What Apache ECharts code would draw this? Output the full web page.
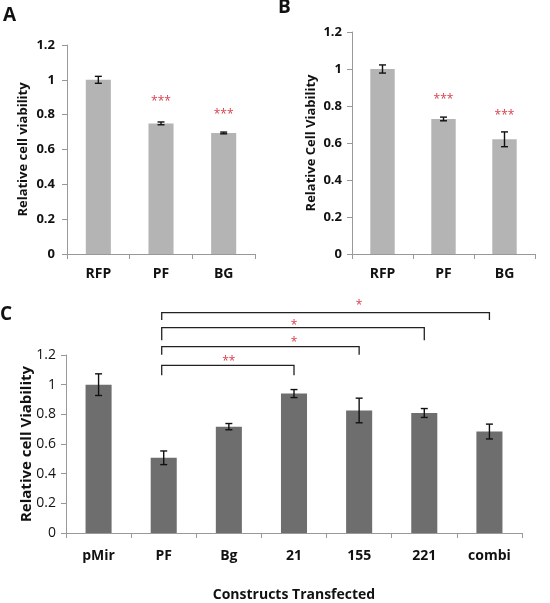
<!DOCTYPE html>
<html><head><meta charset="utf-8">
<script src="https://cdn.jsdelivr.net/npm/echarts@6/dist/echarts.min.js"></script>
<style>html,body{margin:0;padding:0;background:#fff}#c{width:550px;height:603px}</style>
</head><body><div id="c"></div>
<script>
// ---- data ----
var catsA = ['RFP', 'PF', 'BG'];
var valsA = [1.0, 0.75, 0.695];
var errA = [0.02, 0.008, 0.005];
var starsA = [null, '***', '***'];
var starYA = [null, 0.875, 0.80];

var catsB = ['RFP', 'PF', 'BG'];
var valsB = [1.0, 0.73, 0.62];
var errB = [0.022, 0.01, 0.04];
var starsB = [null, '***', '***'];
var starYB = [null, 0.835, 0.75];

var catsC = ['pMir', 'PF', 'Bg', '21', '155', '221', 'combi'];
var valsC = [1.0, 0.507, 0.717, 0.94, 0.826, 0.809, 0.684];
var errC = [0.073, 0.046, 0.021, 0.027, 0.083, 0.03, 0.05];
// brackets: from index, to index, bar height, leg bottom, label, label height
var brFrom = [1, 1, 1, 1];
var brTo = [3, 4, 5, 6];
var brTop = [1.13, 1.257, 1.384, 1.486];
var brLeg = [1.063, 1.202, 1.30, 1.436];
var brLabel = ['**', '*', '*', '*'];
var brLabelY = [1.155, 1.285, 1.40, 1.53];

var yTicks = [0, 0.2, 0.4, 0.6, 0.8, 1, 1.2];

var FONT = 'Open Sans';
var AX = '#999999';
var STAR = '#d9404e';

function errSeries(idx, vals, errs) {
  return {
    type: 'custom', xAxisIndex: idx, yAxisIndex: idx, z: 5, clip: false,
    data: vals.map(function (v, i) { return [i, v, errs[i]]; }),
    renderItem: function (params, api) {
      var x = api.value(0), v = api.value(1), e = api.value(2);
      var top = api.coord([x, v + e]), bot = api.coord([x, v - e]);
      var cw = 3.5;
      var st = { stroke: '#111', lineWidth: 1.4 };
      return { type: 'group', children: [
        { type: 'line', shape: { x1: top[0], y1: top[1], x2: bot[0], y2: bot[1] }, style: st },
        { type: 'line', shape: { x1: top[0] - cw, y1: top[1], x2: top[0] + cw, y2: top[1] }, style: st },
        { type: 'line', shape: { x1: bot[0] - cw, y1: bot[1], x2: bot[0] + cw, y2: bot[1] }, style: st }
      ]};
    }
  };
}
function starSeries(idx, labels, ys) {
  var d = [];
  labels.forEach(function (l, i) { if (l) d.push([i, ys[i], l]); });
  return {
    type: 'custom', xAxisIndex: idx, yAxisIndex: idx, z: 6, clip: false,
    data: d,
    renderItem: function (params, api) {
      var p = api.coord([api.value(0), api.value(1)]);
      return { type: 'text', x: p[0], y: p[1],
        style: { text: d[params.dataIndex][2], fill: STAR, font: '12px "' + FONT + '"', align: 'center', verticalAlign: 'middle' } };
    }
  };
}
function barSeries(idx, vals, color) {
  return { type: 'bar', xAxisIndex: idx, yAxisIndex: idx, data: vals, barCategoryGap: '60%',
    itemStyle: { color: color }, z: 2 };
}
function xAx(idx, cats, fs, margin) {
  return { type: 'category', gridIndex: idx, data: cats,
    axisLine: { lineStyle: { color: AX, width: 1 } },
    axisTick: { show: true, length: 5, lineStyle: { color: AX } },
    axisLabel: { color: '#111', fontFamily: FONT, fontWeight: 'bold', fontSize: fs, margin: margin } };
}
function yAx(idx, name, nameFs, nameGap, labFs, labBold, margin) {
  return { type: 'value', gridIndex: idx, min: 0, max: 1.2, interval: 0.2,
    name: name, nameLocation: 'middle', nameGap: nameGap, nameRotate: 90, nameMoveOverlap: false,
    nameTextStyle: { color: '#111', fontFamily: FONT, fontWeight: 'bold', fontSize: nameFs },
    splitLine: { show: false },
    axisLine: { show: true, lineStyle: { color: AX, width: 1 } },
    axisTick: { show: true, length: 5, lineStyle: { color: AX } },
    axisLabel: { color: '#111', fontFamily: FONT, fontWeight: labBold ? 'bold' : 'normal', fontSize: labFs, margin: margin,
      formatter: function (v) { var s = String(Math.round(v * 10) / 10); return yTicks.indexOf(Number(s)) >= 0 ? s : ''; } } };
}

var chart = echarts.init(document.getElementById('c'), null, { renderer: 'canvas' });
var option = {
  animation: false,
  backgroundColor: '#fff',
  grid: [
    { left: 67, top: 45, width: 188, height: 209 },
    { left: 352, top: 32, width: 183, height: 222 },
    { left: 66, top: 355, width: 456, height: 183 }
  ],
  xAxis: [
    xAx(0, catsA, 14, 13),
    xAx(1, catsB, 14, 13),
    Object.assign(xAx(2, catsC, 14, 16), { name: 'Constructs Transfected', nameLocation: 'middle', nameGap: 55, nameMoveOverlap: false,
      nameTextStyle: { color: '#111', fontFamily: FONT, fontWeight: 'bold', fontSize: 14 } })
  ],
  yAxis: [
    yAx(0, 'Relative cell viability', 13, 37, 13, true, 12),
    yAx(1, 'Relative Cell Viability', 13, 34, 13, true, 10),
    yAx(2, 'Relative cell Viability', 15, 32, 14, false, 10)
  ],
  graphic: [
    { type: 'text', left: 3, top: 6, style: { text: 'A', font: 'bold 19px "' + FONT + '"', fill: '#111' } },
    { type: 'text', left: 278, top: -2, style: { text: 'B', font: 'bold 19px "' + FONT + '"', fill: '#111' } },
    { type: 'text', left: 0, top: 305, style: { text: 'C', font: 'bold 19px "' + FONT + '"', fill: '#111' } }
  ],
  series: [
    barSeries(0, valsA, '#b4b4b4'),
    errSeries(0, valsA, errA),
    starSeries(0, starsA, starYA),
    barSeries(1, valsB, '#b4b4b4'),
    errSeries(1, valsB, errB),
    starSeries(1, starsB, starYB),
    barSeries(2, valsC, '#6e6e6e'),
    errSeries(2, valsC, errC),
    {
      type: 'custom', xAxisIndex: 2, yAxisIndex: 2, z: 6, clip: false,
      data: brFrom.map(function (f, i) { return [f, brTo[i], brTop[i], brLeg[i], brLabelY[i]]; }),
      renderItem: function (params, api) {
        var f = api.value(0), t = api.value(1), yt = api.value(2), yl = api.value(3), ys = api.value(4);
        var a = api.coord([f, yt]), b = api.coord([t, yt]);
        var al = api.coord([f, yl]), bl = api.coord([t, yl]);
        var sp = api.coord([(f + t) / 2, ys]);
        var st = { stroke: '#222', lineWidth: 1.3 };
        return { type: 'group', children: [
          { type: 'polyline', shape: { points: [[al[0] - 2, al[1]], [a[0] - 2, a[1]], [b[0], b[1]], [bl[0], bl[1]]] }, style: Object.assign({ fill: null }, st) },
          { type: 'text', x: sp[0], y: sp[1], style: { text: brLabel[params.dataIndex], fill: STAR, font: '12px "' + FONT + '"', align: 'center', verticalAlign: 'middle' } }
        ]};
      }
    }
  ]
};
chart.setOption(option);
</script>
</body></html>
